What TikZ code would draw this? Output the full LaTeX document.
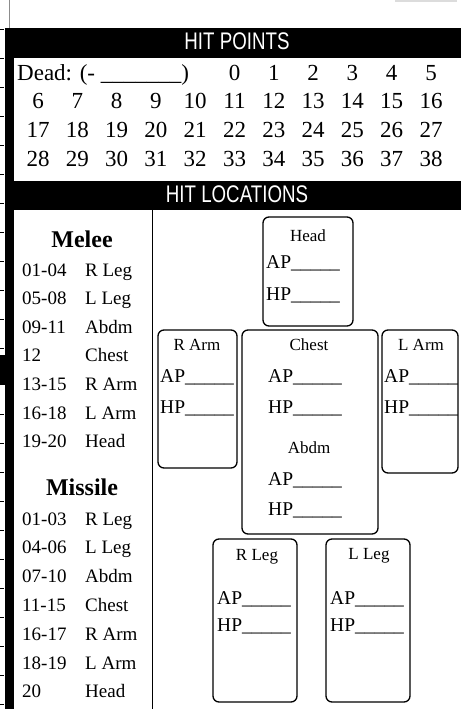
\documentclass[tikz,border=0pt]{standalone}
\usepackage{fontspec}
\usepackage{graphicx}
\setmainfont{Liberation Serif}
\newfontfamily\titlefont{Liberation Sans}
\definecolor{edgegray}{HTML}{8C8C8C}
\definecolor{rulegray}{HTML}{DCDCDC}
\tikzset{
  band/.style={fill=black},
  bandtitle/.style={text=white, font=\titlefont\fontsize{24}{24}\selectfont, inner sep=0pt, anchor=base},
  hpnum/.style={font=\fontsize{23}{23}\selectfont, inner sep=0pt, anchor=base},
  listtext/.style={font=\fontsize{19}{19}\selectfont, inner sep=0pt, anchor=base west},
  listhead/.style={font=\bfseries\fontsize{24}{24}\selectfont, inner sep=0pt, anchor=base},
  locbox/.style={draw=black, line width=1.3pt, rounded corners=6pt},
  lochead/.style={font=\fontsize{17}{17}\selectfont, inner sep=0pt, anchor=base},
  locfield/.style={font=\fontsize{19.5}{19.5}\selectfont, inner sep=0pt, anchor=base west},
}

\begin{document}
\begin{tikzpicture}[x=1pt,y=-1pt]
    \useasboundingbox (0,0) rectangle (461,709);

    % page edge bits
    \draw[edgegray, line width=1pt] (9,0) -- (9,28);
    \draw[rulegray, line width=1.5pt] (395,1) -- (457,1);
    \foreach \t in {29,58,87,116,145,174,203,232,261,290,319,348,414,443,472,501,530,559,588,617,646,675,704}
        \draw[line width=0.8pt] (0,\t) -- (4,\t);

    % frame and bands
    \fill[band] (5,28) rectangle (461,58);
    \fill[band] (5,181) rectangle (461,210);
    \fill[band] (5,28) rectangle (14,709);
    \fill[band] (0,355) rectangle (14,385);
    \node[bandtitle] (hptitle) at (237,50) {\scalebox{0.78}[1]{HIT POINTS}};
    \node[bandtitle] (loctitle) at (237,202) {\scalebox{0.78}[1]{HIT LOCATIONS}};

    % hit point track
    \node[hpnum, anchor=base west] (dead) at (17,80) {Dead: (- \_\_\_\_\_\_\_)};
    \foreach \n in {0,...,38} {
        \pgfmathtruncatemacro\row{\n<6 ? 0 : 1+int((\n-6)/11)}
        \pgfmathtruncatemacro\col{\n<6 ? \n+5 : mod(\n-6,11)}
        \node[hpnum] (hp\n) at ({38+39.3*\col},{80+28.7*\row}) {\n};
    }

    % roll tables
    \draw[line width=1pt] (152,210) -- (152,709);
    \node[listhead] (melee) at (82,247) {Melee};
    \foreach \rng/\part [count=\i from 0] in
        {01-04/R Leg, 05-08/L Leg, 09-11/Abdm, 12/Chest, 13-15/R Arm, 16-18/L Arm, 19-20/Head} {
        \node[listtext] (meleer\i) at (22,{276+28.6*\i}) {\rng};
        \node[listtext] (meleep\i) at (85,{276+28.6*\i}) {\part};
    }
    \node[listhead] (missile) at (82,495) {Missile};
    \foreach \rng/\part [count=\i from 0] in
        {01-03/R Leg, 04-06/L Leg, 07-10/Abdm, 11-15/Chest, 16-17/R Arm, 18-19/L Arm, 20/Head} {
        \node[listtext] (missiler\i) at (22,{525+28.8*\i}) {\rng};
        \node[listtext] (missilep\i) at (85,{525+28.8*\i}) {\part};
    }

    % body boxes
    \draw[locbox] (263,217) rectangle (353,326);
    \node[lochead] (head) at (308,241) {Head};
    \node[locfield] (headap) at (266,268) {AP\_\_\_\_\_};
    \node[locfield] (headhp) at (266,300) {HP\_\_\_\_\_};

    \draw[locbox] (158,330) rectangle (237,468);
    \node[lochead] (rarm) at (197,350) {R Arm};
    \node[locfield] (rarmap) at (160,382) {AP\_\_\_\_\_};
    \node[locfield] (rarmhp) at (160,413) {HP\_\_\_\_\_};

    \draw[locbox] (242,330) rectangle (378,534);
    \node[lochead] (chest) at (309,350) {Chest};
    \node[locfield] (chestap) at (268,382) {AP\_\_\_\_\_};
    \node[locfield] (chesthp) at (268,413) {HP\_\_\_\_\_};
    \node[lochead] (abdm) at (309,453) {Abdm};
    \node[locfield] (abdmap) at (268,485) {AP\_\_\_\_\_};
    \node[locfield] (abdmhp) at (268,515) {HP\_\_\_\_\_};

    \draw[locbox] (382,330) rectangle (458,473);
    \node[lochead] (larm) at (421,350) {L Arm};
    \node[locfield] (larmap) at (384,382) {AP\_\_\_\_\_};
    \node[locfield] (larmhp) at (384,413) {HP\_\_\_\_\_};

    \draw[locbox] (213,539) rectangle (297,702);
    \node[lochead] (rleg) at (257,560) {R Leg};
    \node[locfield] (rlegap) at (217,604) {AP\_\_\_\_\_};
    \node[locfield] (rleghp) at (217,631) {HP\_\_\_\_\_};

    \draw[locbox] (326,539) rectangle (410,702);
    \node[lochead] (lleg) at (369,559) {L Leg};
    \node[locfield] (llegap) at (330,604) {AP\_\_\_\_\_};
    \node[locfield] (lleghp) at (330,631) {HP\_\_\_\_\_};
\end{tikzpicture}
\end{document}
